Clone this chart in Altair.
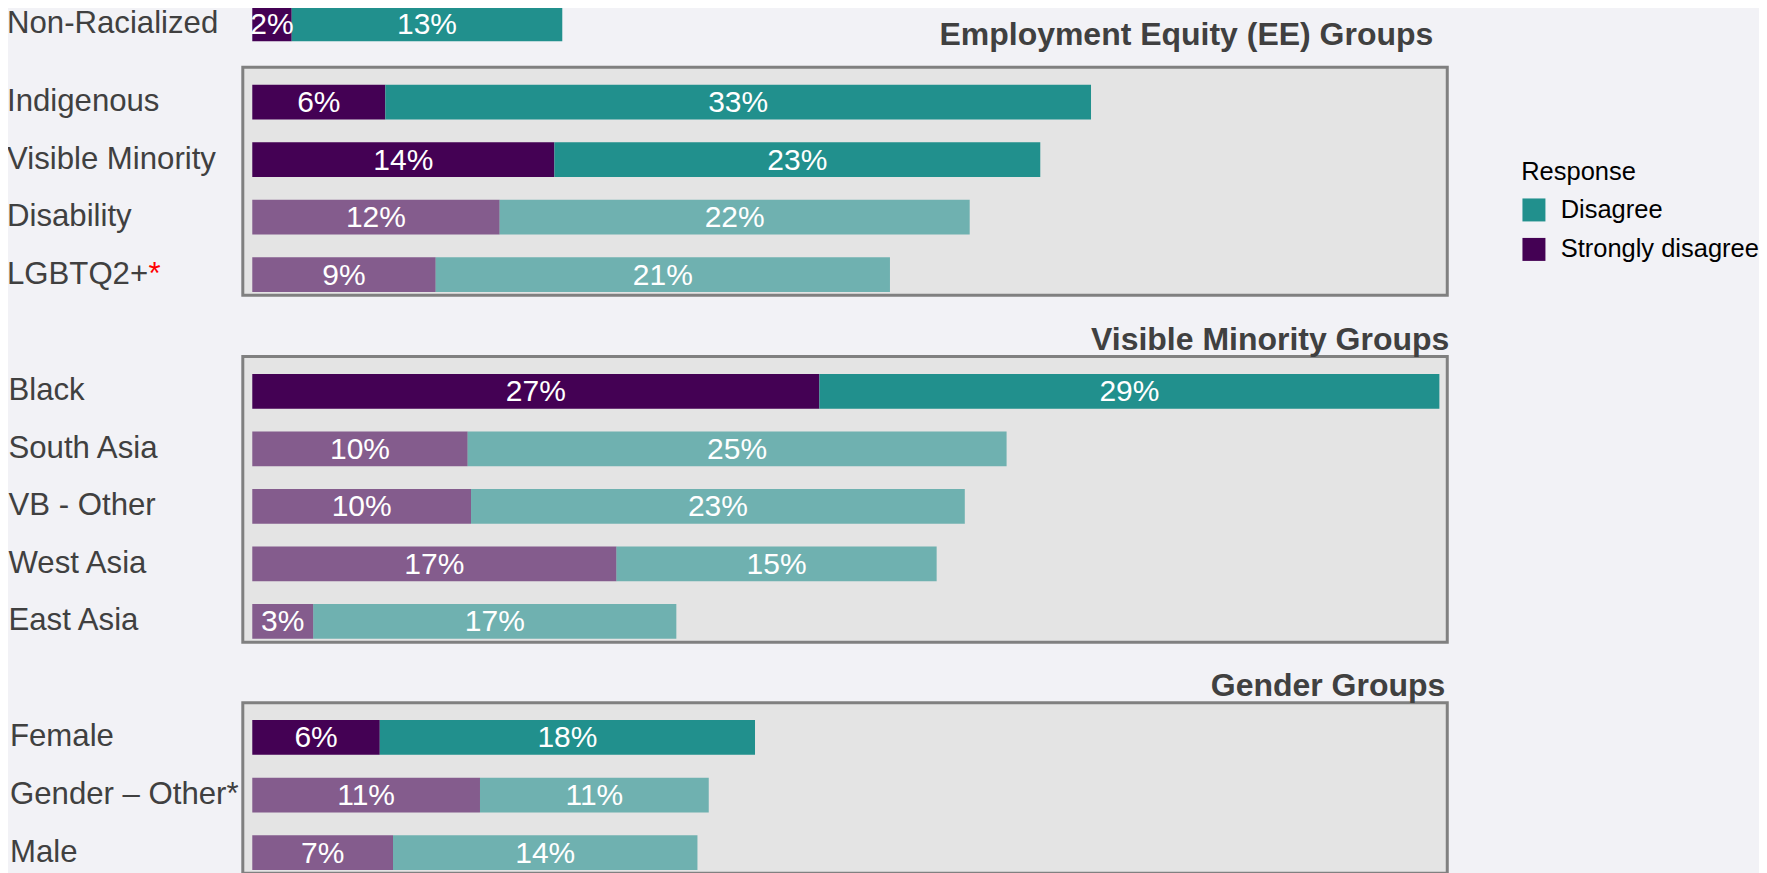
import altair as alt
import pandas as pd

FONT = "Liberation Sans"

# ---- data ----
groups = ["Non-Racialized", "Indigenous", "Visible Minority", "Disability", "LGBTQ2+",
          "Black", "South Asia", "VB - Other", "West Asia", "East Asia",
          "Female", "Gender – Other*", "Male"]
sections = ["", "Employment Equity (EE) Groups", "Employment Equity (EE) Groups",
            "Employment Equity (EE) Groups", "Employment Equity (EE) Groups",
            "Visible Minority Groups", "Visible Minority Groups", "Visible Minority Groups",
            "Visible Minority Groups", "Visible Minority Groups",
            "Gender Groups", "Gender Groups", "Gender Groups"]
strongly_disagree = [1.85, 6.24, 14.17, 11.6, 8.6, 26.6, 10.1, 10.26, 17.08, 2.86, 5.98, 10.68, 6.6]
disagree = [12.69, 33.1, 22.79, 22.05, 21.31, 29.08, 25.28, 23.16, 15.02, 17.03, 17.6, 10.73, 14.28]
highlighted = ["Non-Racialized", "Indigenous", "Visible Minority", "Black", "Female"]
red_star = ["LGBTQ2+"]
responses = ["Disagree", "Strongly disagree"]

rows = []
for g, s, sd, d in zip(groups, sections, strongly_disagree, disagree):
    emph = "yes" if g in highlighted else "no"
    rows.append(dict(group=g, section=s, response="Strongly disagree", value=sd, order=0,
                     emph=emph, label=f"{round(sd)}%"))
    rows.append(dict(group=g, section=s, response="Disagree", value=d, order=1,
                     emph=emph, label=f"{round(d)}%"))
df = pd.DataFrame(rows)

XSCALE = alt.Scale(domain=[-0.445, 56.05], nice=False, zero=False)
WIDTH = 1205.5
STEP = 57.6
P_IN = 0.396
P_OUT = 0.179
LABEL_SIZE = 31.2


def panel(sec, title_text, boxed, lab_pad, outer, title_offset=6, title_dx=2, title_dy=31):
    d = df[df.section == sec]
    cats = [g for g in groups if g in set(d.group)]
    n = len(cats)
    h = round(STEP * (n - P_IN + 2 * outer), 1)
    y = alt.Y("group:N", sort=cats, title=None,
              scale=alt.Scale(domain=cats, paddingInner=P_IN, paddingOuter=outer, align=0.84),
              axis=alt.Axis(labelAlign="left", labelPadding=lab_pad, ticks=False, tickSize=0,
                            domain=False, labelFontSize=LABEL_SIZE, labelColor="#404040",
                            labelFont=FONT, labelLimit=0, labelBaseline="middle"))
    bars = alt.Chart(d).mark_bar().encode(
        x=alt.X("value:Q", stack="zero", scale=XSCALE, axis=None),
        y=y,
        color=alt.Color("response:N",
                        scale=alt.Scale(domain=responses, range=["#21908d", "#440154"]),
                        legend=alt.Legend(title="Response")),
        opacity=alt.Opacity("emph:N", scale=alt.Scale(domain=["yes", "no"], range=[1, 0.6]),
                            legend=None),
        order=alt.Order("order:Q"),
    )
    text = alt.Chart(d).transform_stack(
        stack="value", groupby=["group"], sort=[alt.SortField("order")], as_=["x0", "x1"]
    ).transform_calculate(mid="(datum.x0 + datum.x1) / 2").mark_text(
        color="white", fontSize=30, font=FONT, baseline="middle", align="center", dy=1
    ).encode(
        x=alt.X("mid:Q", scale=XSCALE, axis=None),
        y=y,
        text="label:N",
    )
    layers = [bars, text]
    stars = [g for g in cats if g in red_star]
    if stars:
        sdf = pd.DataFrame({"group": stars, "star": ["*"] * len(stars)})
        layers.append(alt.Chart(sdf).mark_text(
            color="#ff0000", fontSize=LABEL_SIZE, font=FONT, baseline="middle", align="left"
        ).encode(x=alt.value(-lab_pad + 142), y=y, text="star:N"))
    props = dict(width=WIDTH, height=h)
    if boxed:
        props["view"] = alt.ViewBackground(fill="#e4e4e4", stroke="#808080", strokeWidth=3)
    else:
        props["view"] = alt.ViewBackground(fill="transparent", stroke="transparent", strokeWidth=0)
    if title_text:
        props["title"] = alt.TitleParams(title_text, anchor="end", orient="top", frame="group",
                                         fontSize=32, font=FONT, fontWeight="bold",
                                         color="#404040", offset=title_offset, dx=title_dx,
                                         dy=title_dy, baseline="alphabetic")
    return alt.layer(*layers).properties(**props)


nr = panel("", None, False, 236.5, 0.0)
ee = panel("Employment Equity (EE) Groups", "Employment Equity (EE) Groups", True, 236.5, P_OUT,
           title_offset=21, title_dx=-14)
vm = panel("Visible Minority Groups", "Visible Minority Groups", True, 235, P_OUT)
gd = panel("Gender Groups", "Gender Groups", True, 233.5, P_OUT, title_dx=-2)

inner = alt.vconcat(ee, vm, gd, spacing=60.5, bounds="flush")
chart = alt.vconcat(nr, inner, spacing=26.0, bounds="flush").properties(
    padding={"top": -2, "left": -3, "right": 0, "bottom": 0}, background="#f2f2f6"
).configure_view(strokeWidth=0).configure_legend(
    orient="none", legendX=1279.5, legendY=153.5,
    titleFontSize=25.5, titleFont=FONT, titleFontWeight="normal", titleColor="#000000",
    labelFontSize=25.5, labelFont=FONT, labelColor="#000000",
    symbolType="square", symbolSize=529, symbolStrokeWidth=0, symbolOpacity=1,
    rowPadding=12.5, titlePadding=12, labelOffset=14, labelLimit=0
)

chart.save("out.html", embed_options={"renderer": "svg", "actions": False})
